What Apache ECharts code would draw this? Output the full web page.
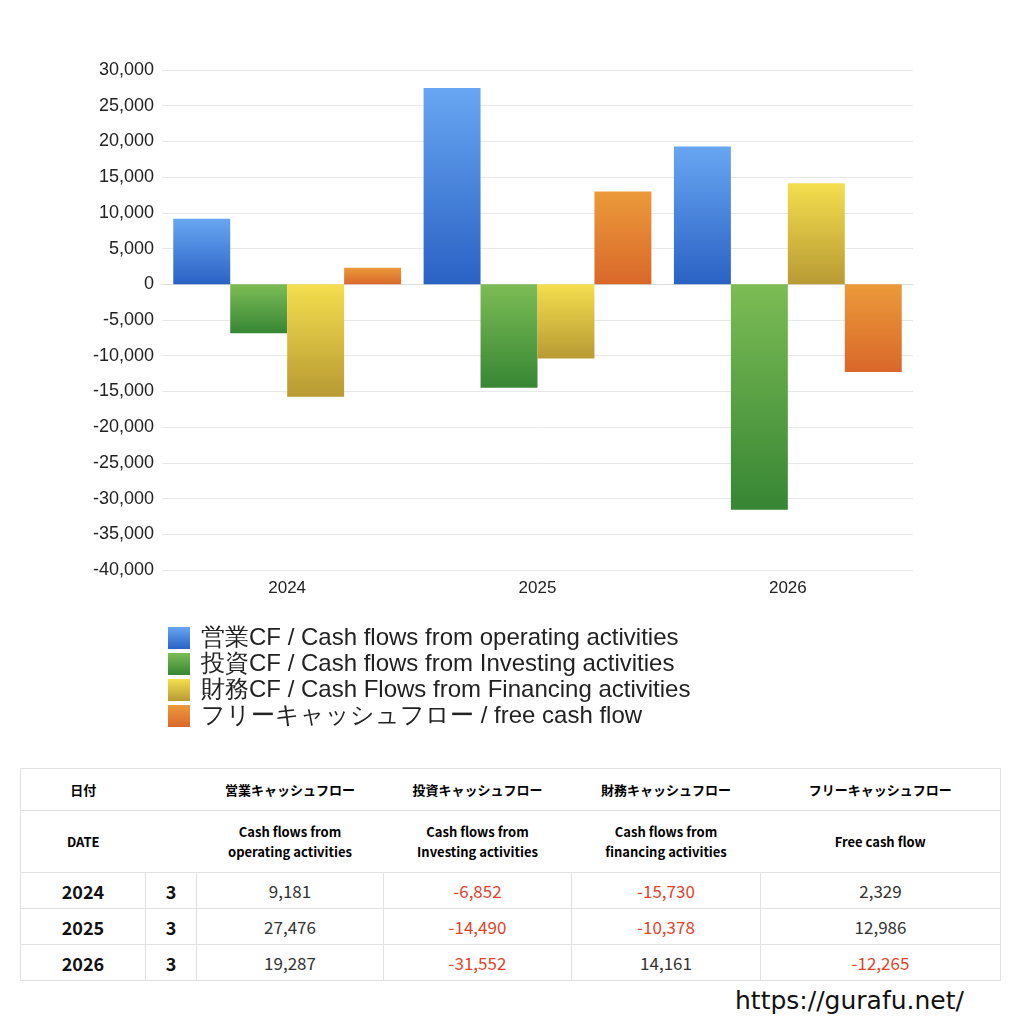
<!DOCTYPE html>
<html><head><meta charset="utf-8">
<script src="https://cdn.jsdelivr.net/npm/echarts@6/dist/echarts.min.js"></script>
<style>
body{margin:0;background:#fff;font-family:"Noto Sans CJK JP","Noto Sans",sans-serif;}
#c{position:absolute;left:0;top:0;width:1024px;height:740px;}
table{position:absolute;left:20px;top:768px;border-collapse:collapse;width:980px;table-layout:fixed;font-family:"Noto Sans CJK JP",sans-serif;border:1px solid #e2e2e2;}
td{border:1px solid #e2e2e2;text-align:center;padding:0;}
.h1 td,.h2 td{border-left:none;border-right:none;}
.h1 td{height:41px;font-size:13px;font-weight:bold;}
.h2 td{height:61px;font-size:13px;font-weight:bold;line-height:20px;}
.d td{height:35px;font-size:17px;color:#333;}
.d td.y{font-weight:bold;font-size:18px;color:#111;}
.neg{color:#e0442a !important;}
#url{position:absolute;left:735px;top:986px;font-size:25px;font-family:"DejaVu Sans",sans-serif;color:#111;}
</style></head><body>
<div id="c"></div>
<table id="t"><colgroup><col style="width:125px"><col style="width:51px"><col style="width:187px"><col style="width:188px"><col style="width:189px"><col style="width:240px"></colgroup></table>
<div id="url">https://gurafu.net/</div>
<script>
const years=['2024','2025','2026'];
const months=['3','3','3'];
const operating=[9181,27476,19287];
const investing=[-6852,-14490,-31552];
const financing=[-15730,-10378,14161];
const freeCF=[2329,12986,-12265];
const names=['営業CF / Cash flows from operating activities','投資CF / Cash flows from Investing activities','財務CF / Cash Flows from Financing activities','フリーキャッシュフロー / free cash flow'];
const yTicks={min:-40000,max:30000,interval:5000};
const grads=[['#68a6f2','#2a62c4'],['#7cbc55','#378634'],['#f5de4e','#b89a34'],['#eb9a3a','#d9682a']];
const g=(c)=>new echarts.graphic.LinearGradient(0,0,0,1,[{offset:0,color:c[0]},{offset:1,color:c[1]}]);
const data=[operating,investing,financing,freeCF];
const ch=echarts.init(document.getElementById('c'));
ch.setOption({
 animation:false,
 grid:{left:162,right:111,top:70,height:500},
 xAxis:{type:'category',data:years,axisLine:{lineStyle:{color:'#ddd'}},axisTick:{show:false},axisLabel:{fontSize:17,color:'#222',margin:10}},
 yAxis:{type:'value',min:yTicks.min,max:yTicks.max,interval:yTicks.interval,axisLabel:{fontSize:18,color:'#222',formatter:v=>v.toLocaleString('en-US')},splitLine:{lineStyle:{color:'#e8e8e8'}}},
 legend:{orient:'vertical',left:163,top:621,itemWidth:22,itemHeight:22,itemGap:2,textStyle:{fontSize:24,color:'#222',padding:[0,0,0,6]},icon:'rect'},
 series:data.map((d,i)=>({type:'bar',name:names[i],data:d,barGap:0,barCategoryGap:'9%',itemStyle:{color:g(grads[i])}}))
});
const t=document.getElementById('t');
let h='<tr class="h1"><td>日付</td><td></td><td>営業キャッシュフロー</td><td>投資キャッシュフロー</td><td>財務キャッシュフロー</td><td>フリーキャッシュフロー</td></tr>';
h+='<tr class="h2"><td>DATE</td><td></td><td>Cash flows from<br>operating activities</td><td>Cash flows from<br>Investing activities</td><td>Cash flows from<br>financing activities</td><td>Free cash flow</td></tr>';
const f=v=>`<td class="${v<0?'neg':''}">${v.toLocaleString('en-US')}</td>`;
years.forEach((y,i)=>{h+=`<tr class="d"><td class="y">${y}</td><td class="y">${months[i]}</td>${f(operating[i])}${f(investing[i])}${f(financing[i])}${f(freeCF[i])}</tr>`;});
t.insertAdjacentHTML('beforeend',h);
</script></body></html>
